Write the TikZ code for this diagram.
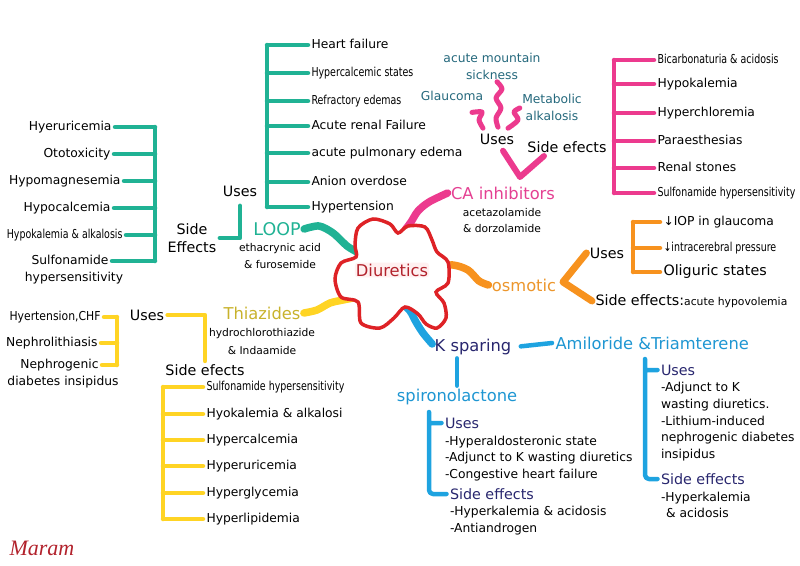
\documentclass[tikz,border=0pt]{standalone}
\usepackage{fontspec}
\setmainfont{DejaVu Sans}
\newfontfamily\signfont{Liberation Serif}
\definecolor{loopcol}{RGB}{32,178,148}
\definecolor{cacol}{RGB}{236,58,142}
\definecolor{osmcol}{RGB}{247,146,30}
\definecolor{thzcol}{RGB}{255,212,36}
\definecolor{kspcol}{RGB}{30,163,224}
\definecolor{blobcol}{RGB}{222,34,38}
\definecolor{navy}{RGB}{40,38,110}
\definecolor{tealtext}{RGB}{36,104,124}
\definecolor{thztext}{RGB}{200,178,44}
\definecolor{osmtext}{RGB}{236,150,44}
\definecolor{amitext}{RGB}{30,150,210}
\definecolor{catext}{RGB}{228,64,146}
\definecolor{diutext}{RGB}{178,34,44}
\newcommand{\narrowtext}[1]{\scalebox{0.77}[1]{#1}}

\begin{document}
\begin{tikzpicture}[x=1pt, y=-1pt,
            item/.style={inner sep=1pt, outer sep=2.5pt, text height=1.5ex, text depth=.3ex,
                font=\fontsize{12.3}{15}\selectfont},
            block/.style={inner sep=1pt, outer sep=2.5pt, align=center, font=\fontsize{12.3}{17}\selectfont},
            head/.style={inner sep=1pt, outer sep=2.5pt, font=\fontsize{16.3}{18}\selectfont},
            sub/.style={inner sep=1pt, outer sep=2.5pt, font=\fontsize{14.3}{18}\selectfont},
            drug/.style={inner sep=1pt, align=center, font=\fontsize{10.7}{17}\selectfont},
            bar/.style={line width=4.5pt, line cap=round, line join=round},
            wave/.style={line width=7.5pt, line cap=round, line join=round},
            squiggle/.style={line width=5pt, line cap=round, line join=round}]
    \useasboundingbox (0,0) rectangle (800,565);

    % centre
    \node (diu) at (392,270) [head, text=diutext] {Diuretics};
    \coordinate (bl) at (357,252);
    \coordinate (bt) at (405,230);
    \coordinate (br) at (437,267);
    \coordinate (bll) at (353,298);
    \coordinate (bb) at (401,302);

    % loop
    \node (loop) at (277,229) [inner sep=1pt, outer sep=2.5pt, text=loopcol, font=\fontsize{17.5}{20}\selectfont] {LOOP};
    \node (ldrug) at (280,256.5) [drug] {ethacrynic acid\\\& furosemide};
    \node (luse) at (240,191) [sub] {Uses};
    \node (lse) at (192,238) [sub, align=center] {Side\\Effects};
    \node (lu1) at (308,45) [item, anchor=west] {Heart failure};
    \node (lu2) at (308,73) [item, anchor=west] {\narrowtext{Hypercalcemic states}};
    \node (lu3) at (308,101) [item, anchor=west] {\narrowtext{Refractory edemas}};
    \node (lu4) at (308,126) [item, anchor=west] {Acute renal Failure};
    \node (lu5) at (308,153) [item, anchor=west] {acute pulmonary edema};
    \node (lu6) at (308,182) [item, anchor=west] {Anion overdose};
    \node (lu7) at (308,207) [item, anchor=west] {Hypertension};
    \node (ls1) at (115,127) [item, anchor=east] {Hyeruricemia};
    \node (ls2) at (114,154) [item, anchor=east] {Ototoxicity};
    \node (ls3) at (124,181) [item, anchor=east] {Hypomagnesemia};
    \node (ls4) at (114,208) [item, anchor=east] {Hypocalcemia};
    \node (ls5) at (126,235) [item, anchor=east] {\narrowtext{Hypokalemia \& alkalosis}};
    \node (ls6) at (112,261) [item, anchor=east] {Sulfonamide};
    \node (ls6b) at (74,278) [item] {hypersensitivity};
    \coordinate (lubar) at (267,0);
    \coordinate (lsbar) at (155,0);
    \draw[bar, loopcol] (lubar |- lu1.west) -- (lubar |- lu7.west)
        (lubar |- lu1.west) -- (lu1.west) (lubar |- lu2.west) -- (lu2.west)
        (lubar |- lu3.west) -- (lu3.west) (lubar |- lu4.west) -- (lu4.west)
        (lubar |- lu5.west) -- (lu5.west) (lubar |- lu6.west) -- (lu6.west)
        (lubar |- lu7.west) -- (lu7.west);
    \draw[bar, loopcol] (lsbar |- ls1.east) -- (lsbar |- ls6.east)
        (lsbar |- ls1.east) -- (ls1.east) (lsbar |- ls2.east) -- (ls2.east)
        (lsbar |- ls3.east) -- (ls3.east) (lsbar |- ls4.east) -- (ls4.east)
        (lsbar |- ls5.east) -- (ls5.east) (lsbar |- ls6.east) -- (ls6.east);
    \draw[bar, loopcol, shorten <=6pt] (luse.south) |- (lse.east);
    \draw[wave, loopcol] plot[smooth] coordinates {(loop.east) (319,226) (333,233) (347,246) (bl)};

    % CA inhibitors
    \node (cainh) at (503,193) [head, text=catext] {CA inhibitors};
    \node (cadrug) at (502,221) [drug, font=\fontsize{10.7}{16}\selectfont] {acetazolamide\\\& dorzolamide};
    \node (causes) at (497,139) [sub] {Uses};
    \node (cse) at (567,147) [sub] {Side efects};
    \node (cglau) at (452,97) [item, text=tealtext] {Glaucoma};
    \node (cams) at (492,66) [block, text=tealtext] {acute mountain\\sickness};
    \node (cmet) at (552,107) [block, text=tealtext] {Metabolic\\alkalosis};
    \node (cs1) at (654,60) [item, anchor=west] {\narrowtext{Bicarbonaturia \& acidosis}};
    \node (cs2) at (654,84) [item, anchor=west] {Hypokalemia};
    \node (cs3) at (654,113) [item, anchor=west] {Hyperchloremia};
    \node (cs4) at (654,141) [item, anchor=west] {Paraesthesias};
    \node (cs5) at (654,168) [item, anchor=west] {Renal stones};
    \node (cs6) at (654,193) [item, anchor=west] {\narrowtext{Sulfonamide hypersensitivity}};
    \coordinate (csbar) at (614,0);
    \coordinate (cav) at (520,177);
    \draw[bar, cacol] (csbar |- cs1.west) -- (csbar |- cs6.west)
        (csbar |- cs1.west) -- (cs1.west) (csbar |- cs2.west) -- (cs2.west)
        (csbar |- cs3.west) -- (cs3.west) (csbar |- cs4.west) -- (cs4.west)
        (csbar |- cs5.west) -- (cs5.west) (csbar |- cs6.west) -- (cs6.west);
    \draw[bar, cacol, line width=6pt] ([shift={(6,3)}]causes.south) -- (cav) -- ([xshift=-23pt]cse.south);
    \draw[squiggle, cacol] plot[smooth] coordinates {([shift={(20,7)}]cglau.south) (482,112) (479,120) ([shift={(-14,-2)}]causes.north)};
    \draw[squiggle, cacol] plot[smooth] coordinates {([shift={(5,-1)}]cams.south) (502,89) (496,98) (501,108) (496,118) ([shift={(1,-3)}]causes.north)};
    \draw[squiggle, cacol] plot[smooth] coordinates {([shift={(1,1)}]cmet.west) (514,112) (518,120) ([shift={(11,-2)}]causes.north)};
    \draw[wave, cacol] plot[smooth] coordinates {(cainh.west) (429,202) (418,211) (411,222) (bt)};

    % osmotic
    \node (osm) at (524,285) [head, text=osmtext] {osmotic};
    \node (ouse) at (607,253) [sub] {Uses};
    \node (ose) at (592,301) [sub, anchor=west] {Side effects:{\fontsize{10.8}{13}\selectfont acute hypovolemia}};
    \node (os1) at (660,222) [item, anchor=west] {↓IOP in glaucoma};
    \node (os2) at (660,248) [item, anchor=west] {\narrowtext{↓intracerebral pressure}};
    \node (os3) at (660,272) [sub, anchor=west] {Oliguric states};
    \coordinate (osbar) at (633,0);
    \coordinate (osv) at (563,282);
    \draw[bar, osmcol] (osbar |- os1.west) -- (osbar |- os3.west)
        (osbar |- os1.west) -- (os1.west) (osbar |- os2.west) -- (os2.west)
        (osbar |- os3.west) -- (os3.west);
    \draw[bar, osmcol, line width=7pt] (ouse.west) -- (osv) -- (ose.west);
    \draw[wave, osmcol] plot[smooth] coordinates {(br) (453,265) (468,270) (479,281) (osm.west)};

    % thiazides
    \node (thz) at (262,313) [head, text=thztext] {Thiazides};
    \node (tdrug) at (262,342) [drug, font=\fontsize{10.7}{18}\selectfont] {hydrochlorothiazide\\\& Indaamide};
    \node (tuse) at (147,315) [sub] {Uses};
    \node (tse) at (205,370) [sub] {Side efects};
    \node (tu1) at (104,317) [item, anchor=east] {\scalebox{0.88}[1]{Hyertension,CHF}};
    \node (tu2) at (101,343) [item, anchor=east] {Nephrolithiasis};
    \node (tu3) at (102,365) [item, anchor=east] {Nephrogenic};
    \node (tu3b) at (63,382) [item] {diabetes insipidus};
    \node (ty1) at (203,387) [item, anchor=west] {\narrowtext{Sulfonamide hypersensitivity}};
    \node (ty2) at (203,414) [item, anchor=west] {Hyokalemia \& alkalosi};
    \node (ty3) at (203,440) [item, anchor=west] {Hypercalcemia};
    \node (ty4) at (203,466) [item, anchor=west] {Hyperuricemia};
    \node (ty5) at (203,493) [item, anchor=west] {Hyperglycemia};
    \node (ty6) at (203,519) [item, anchor=west] {Hyperlipidemia};
    \coordinate (tubar) at (117,0);
    \coordinate (tybar) at (163,0);
    \draw[bar, thzcol] (tubar |- tu1.east) -- (tubar |- tu3.east)
        (tubar |- tu1.east) -- (tu1.east) (tubar |- tu2.east) -- (tu2.east)
        (tubar |- tu3.east) -- (tu3.east);
    \draw[bar, thzcol] (tybar |- ty1.west) -- (tybar |- ty6.west)
        (tybar |- ty1.west) -- (ty1.west) (tybar |- ty2.west) -- (ty2.west)
        (tybar |- ty3.west) -- (ty3.west) (tybar |- ty4.west) -- (ty4.west)
        (tybar |- ty5.west) -- (ty5.west) (tybar |- ty6.west) -- (ty6.west);
    \draw[bar, thzcol] (tuse.east) -| (tse.north);
    \draw[wave, thzcol] plot[smooth] coordinates {(thz.east) (317,310) (330,303) (343,300) (bll)};

    % K sparing
    \node (ksp) at (473,347) [head, text=navy] {K sparing};
    \node (amil) at (552,343) [head, anchor=west, text=amitext] {Amiloride \&Triamterene};
    \node (spiro) at (457,397) [head, text=amitext] {spironolactone};
    \node (spuse) at (441.5,423) [sub, anchor=west, text=navy] {Uses};
    \node (sptxt) at (441.5,458.5) [block, anchor=west, align=left, font=\fontsize{12.3}{16.5}\selectfont]
        {-Hyperaldosteronic state\\-Adjunct to K wasting diuretics\\-Congestive heart failure};
    \node (spse) at (446.5,494) [sub, anchor=west, text=navy] {Side effects};
    \node (sptxt2) at (446.5,520.5) [block, anchor=west, align=left]
        {-Hyperkalemia \& acidosis\\-Antiandrogen};
    \node (amuse) at (657.5,370) [sub, anchor=west, text=navy] {Uses};
    \node (amtxt) at (657.5,421.6) [block, anchor=west, align=left, font=\fontsize{12.3}{16.75}\selectfont]
        {-Adjunct to K\\wasting diuretics.\\-Lithium-induced\\nephrogenic diabetes\\insipidus};
    \node (amse) at (657.5,479) [sub, anchor=west, text=navy] {Side effects};
    \node (amtxt2) at (657.5,505) [block, anchor=west, align=left, font=\fontsize{12.3}{16}\selectfont]
        {-Hyperkalemia\\\hspace{5pt}\& acidosis};
    \coordinate (sptop) at (429,412);
    \coordinate (amtop) at (645,359);
    \draw[bar, kspcol, shorten <=6pt] (ksp.east) -- (amil.west);
    \draw[bar, kspcol] (spiro.north) -- (spiro.north |- ksp.south);
    \draw[bar, kspcol, rounded corners=4pt] (sptop) |- (spse.west) (sptop |- spuse.west) -- (spuse.west);
    \draw[bar, kspcol, rounded corners=4pt] (amtop) |- (amse.west) (amtop |- amuse.west) -- (amuse.west);
    \draw[wave, kspcol] plot[smooth] coordinates {(bb) (410,311) (416,322) (423,333) ([shift={(1,-3)}]ksp.west)};

    % blob over the wave ends
    \draw[blobcol, line width=3.5pt, fill=white] plot[smooth cycle] coordinates {(355,245) (358,228) (373,219)
        (390,224) (398,233) (408,226) (425,227) (432,240) (437,252) (448,262) (448,283) (436,292)
        (444,303) (446,318) (437,328) (426,324) (418,314) (405,307) (394,318) (380,328) (361,323) (358,302)
        (341,297) (335,279) (341,263) (356,257)};
    \node at (diu) [head, text=diutext, fill=red!6, rounded corners=3pt] {Diuretics};

    \node (sign) at (42,548) [text=diutext, font=\signfont\itshape\fontsize{22}{24}\selectfont] {Maram};
\end{tikzpicture}
\end{document}
